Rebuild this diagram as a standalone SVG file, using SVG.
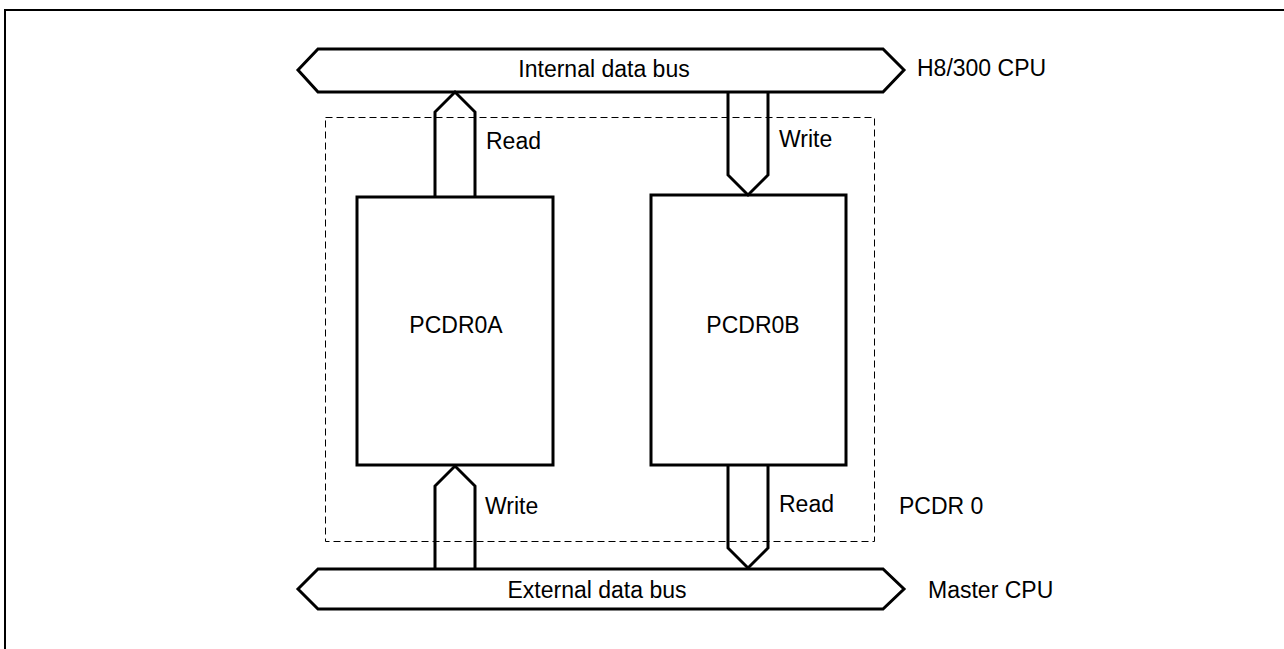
<svg xmlns="http://www.w3.org/2000/svg" width="1284" height="649" viewBox="0 0 1284 649">
<style>
.ln{fill:none;stroke:#000;stroke-width:3;stroke-linejoin:miter}
.bx{fill:#fff;stroke:#000;stroke-width:3}
.t{font-family:"Liberation Sans",Arial,sans-serif;font-size:23px;fill:#000}
</style>
<rect width="1284" height="649" fill="#fff"/>
<path d="M5,649 V10 H1284" fill="none" stroke="#000" stroke-width="2"/>
<g id="pcdr0-frame">
<rect x="325.5" y="117.5" width="549" height="424" fill="none" stroke="#000" stroke-width="1" stroke-dasharray="7,4"/>
<text class="t" x="899" y="514">PCDR 0</text>
</g>
<g id="internal-bus">
<path class="bx" d="M318,49 L883,49 L904,70 L883,92 L318,92 L298,70 Z"/>
<text class="t" x="604" y="77" text-anchor="middle">Internal data bus</text>
<text class="t" x="917" y="76">H8/300 CPU</text>
</g>
<g id="external-bus">
<path class="bx" d="M318,569 L883,569 L904,589 L883,609 L318,609 L298,589 Z"/>
<text class="t" x="597" y="598" text-anchor="middle">External data bus</text>
<text class="t" x="928" y="598">Master CPU</text>
</g>
<g id="pcdr0a">
<rect class="bx" x="357" y="197" width="196" height="268"/>
<text class="t" x="456" y="333" text-anchor="middle">PCDR0A</text>
</g>
<g id="pcdr0b">
<rect class="bx" x="651" y="195" width="195" height="270"/>
<text class="t" x="753" y="333" text-anchor="middle">PCDR0B</text>
</g>
<g id="connectors">
<path class="ln" d="M435,197 V112 L455,92 L475,112 V197"/>
<text class="t" x="486" y="149">Read</text>
<path class="ln" d="M728,92 V175 L748,195 L768,175 V92"/>
<text class="t" x="779" y="147">Write</text>
<path class="ln" d="M435,569 V486 L455,466 L475,486 V569"/>
<text class="t" x="485" y="514">Write</text>
<path class="ln" d="M728,465 V548 L748,568 L768,548 V465"/>
<text class="t" x="779" y="512">Read</text>
</g>
</svg>
